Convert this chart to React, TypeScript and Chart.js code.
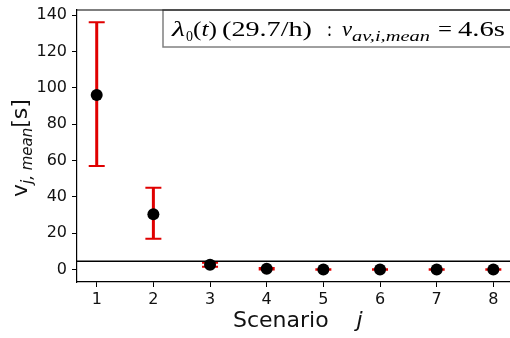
import React, { useEffect, useRef } from "react";
import { Chart, registerables } from "chart.js";

Chart.register(...registerables);

// ---- data ----
const SCENARIOS = [1, 2, 3, 4, 5, 6, 7, 8];
const MEAN = [96, 30.5, 2.7, 0.5, 0.1, 0.1, 0.1, 0.1];
const LOWER = [57, 17, 1.6, 0.1, 0, 0, 0, 0];
const UPPER = [136, 45, 3.8, 0.9, 0.2, 0.2, 0.2, 0.2];
const REFERENCE = 4.6;
const X_TICKS = [1, 2, 3, 4, 5, 6, 7, 8];
const Y_TICKS = [0, 20, 40, 60, 80, 100, 120, 140];
const X_MIN = 0.652;
const X_MAX = 8.294;
const Y_MIN = -6.8;
const Y_MAX = 142.8;

const SANS = "'DejaVu Sans', sans-serif";
const SERIF = "'Liberation Serif', 'DejaVu Serif', serif";

type Seg = { t: string; font: string; dy: number };

function drawSegs(ctx: CanvasRenderingContext2D, segs: Seg[], x: number, y: number) {
  let cx = x;
  for (const s of segs) {
    ctx.font = s.font;
    ctx.fillText(s.t, cx, y + s.dy);
    cx += ctx.measureText(s.t).width;
  }
  return cx;
}

// draws a run of segments starting at x, stretched horizontally to width w
function drawFit(ctx: CanvasRenderingContext2D, segs: Seg[], x: number, y: number, w: number) {
  let nat = 0;
  for (const s of segs) {
    ctx.font = s.font;
    nat += ctx.measureText(s.t).width;
  }
  const sx = w / nat;
  ctx.save();
  ctx.translate(x, y);
  ctx.scale(sx, 1);
  drawSegs(ctx, segs, 0, 0);
  ctx.restore();
}

const decorPlugin = {
  id: "decor",
  beforeDatasetsDraw(chart: any) {
    const ctx = chart.ctx as CanvasRenderingContext2D;
    const xs = chart.scales.x;
    const ys = chart.scales.y;
    ctx.save();
    ctx.strokeStyle = "#e00000";
    for (let i = 0; i < SCENARIOS.length; i++) {
      const px = xs.getPixelForValue(SCENARIOS[i]);
      const pLo = ys.getPixelForValue(LOWER[i]);
      const pHi = ys.getPixelForValue(UPPER[i]);
      ctx.lineWidth = 3;
      ctx.beginPath();
      ctx.moveTo(px, pLo);
      ctx.lineTo(px, pHi);
      ctx.stroke();
      ctx.lineWidth = 2;
      ctx.beginPath();
      ctx.moveTo(px - 8, pLo);
      ctx.lineTo(px + 8, pLo);
      ctx.moveTo(px - 8, pHi);
      ctx.lineTo(px + 8, pHi);
      ctx.stroke();
    }
    ctx.restore();
  },
  afterDraw(chart: any) {
    const ctx = chart.ctx as CanvasRenderingContext2D;
    const area = chart.chartArea;
    ctx.save();
    // text box
    const bx = 163, by = area.top, bh = 37;
    ctx.fillStyle = "#ffffff";
    ctx.fillRect(bx, by, 400, bh);
    ctx.strokeStyle = "#808080";
    ctx.lineWidth = 1.5;
    ctx.strokeRect(bx, by, 400, bh);
    ctx.fillStyle = "#000";
    ctx.textBaseline = "alphabetic";
    ctx.textAlign = "left";
    const big = `21px ${SERIF}`;
    const bigI = `italic 21px ${SERIF}`;
    const sub = `15px ${SERIF}`;
    const subI = `italic 15px ${SERIF}`;
    const base = 36;
    drawFit(ctx, [{ t: "λ", font: bigI, dy: 0 }], 172, base, 13);
    drawFit(ctx, [{ t: "0", font: sub, dy: 0 }], 186, base + 5, 7);
    drawFit(
      ctx,
      [
        { t: "(", font: big, dy: 0 },
        { t: "t", font: bigI, dy: 0 },
        { t: ")", font: big, dy: 0 },
      ],
      193,
      base,
      24
    );
    drawFit(ctx, [{ t: "(29.7/h)", font: big, dy: 0 }], 222, base, 90);
    drawFit(ctx, [{ t: ":", font: big, dy: 0 }], 327, base, 5);
    drawFit(ctx, [{ t: "v", font: bigI, dy: 0 }], 342, base, 10);
    drawFit(ctx, [{ t: "av,i,mean", font: subI, dy: 0 }], 352, base + 5, 78);
    drawFit(ctx, [{ t: "=", font: big, dy: 0 }], 438, base, 14);
    drawFit(ctx, [{ t: "4.6s", font: big, dy: 0 }], 458, base, 47);

    // frame: top spine
    ctx.strokeStyle = "#000";
    ctx.lineWidth = 1.2;
    ctx.beginPath();
    ctx.moveTo(area.left, area.top);
    ctx.lineTo(area.right, area.top);
    ctx.stroke();

    // x title
    ctx.fillStyle = "#111";
    drawSegs(
      ctx,
      [
        { t: "Scenario", font: `22px ${SANS}`, dy: 0 },
        { t: "    ", font: `22px ${SANS}`, dy: 0 },
        { t: "j", font: `italic 22px ${SANS}`, dy: 0 },
      ],
      233,
      327
    );

    // y title (rotated)
    ctx.translate(27, 197);
    ctx.rotate(-Math.PI / 2);
    drawSegs(
      ctx,
      [
        { t: "v", font: `22px ${SANS}`, dy: 0 },
        { t: "j, mean", font: `italic 15px ${SANS}`, dy: 5 },
        { t: "[s]", font: `22px ${SANS}`, dy: 0 },
      ],
      0,
      0
    );
    ctx.restore();
  },
};

export default function App() {
  const ref = useRef<HTMLCanvasElement>(null);
  useEffect(() => {
    if (!ref.current) return;
    const chart = new Chart(ref.current, {
      type: "scatter",
      data: {
        datasets: [
          {
            type: "scatter",
            data: SCENARIOS.map((x, i) => ({ x, y: MEAN[i] })),
            pointRadius: 6,
            pointBackgroundColor: "#000",
            pointBorderColor: "#000",
            pointBorderWidth: 0,
            order: 0,
          },
          {
            type: "line",
            data: [
              { x: X_MIN, y: REFERENCE },
              { x: X_MAX, y: REFERENCE },
            ],
            borderColor: "#000",
            borderWidth: 1.5,
            pointRadius: 0,
            order: 1,
          } as any,
        ],
      },
      options: {
        animation: false,
        responsive: false,
        devicePixelRatio: 1,
        layout: { autoPadding: false, padding: { top: 10, right: 0, left: 0, bottom: 0 } },
        plugins: { legend: { display: false }, tooltip: { enabled: false } },
        scales: {
          x: {
            type: "linear",
            min: X_MIN,
            max: X_MAX,
            afterBuildTicks: (s: any) => {
              s.ticks = X_TICKS.map((v) => ({ value: v }));
            },
            afterFit: (s: any) => {
              s.height = 56;
              s.paddingLeft = 0;
              s.paddingRight = 0;
            },
            grid: {
              drawOnChartArea: false,
              drawTicks: true,
              tickLength: 5,
              tickColor: "#000",
              tickWidth: 1,
            },
            border: { display: true, color: "#000", width: 1.2 },
            ticks: {
              font: { family: SANS, size: 16 },
              color: "#111",
              padding: 3,
              maxRotation: 0,
              callback: (v: any) => String(v),
            },
          },
          y: {
            type: "linear",
            min: Y_MIN,
            max: Y_MAX,
            afterBuildTicks: (s: any) => {
              s.ticks = Y_TICKS.map((v) => ({ value: v }));
            },
            afterFit: (s: any) => {
              s.width = 77;
              s.paddingTop = 0;
              s.paddingBottom = 0;
            },
            grid: {
              drawOnChartArea: false,
              drawTicks: true,
              tickLength: 5,
              tickColor: "#000",
              tickWidth: 1,
            },
            border: { display: true, color: "#000", width: 1.2 },
            ticks: {
              font: { family: SANS, size: 16 },
              color: "#111",
              padding: 5,
              callback: (v: any) => String(v),
            },
          },
        },
      },
      plugins: [decorPlugin],
    });
    return () => chart.destroy();
  }, []);
  return (
    <div style={{ position: "absolute", left: 0, top: 0, width: 510, height: 338, background: "#fff" }}>
      <canvas ref={ref} width={510} height={338} />
    </div>
  );
}
